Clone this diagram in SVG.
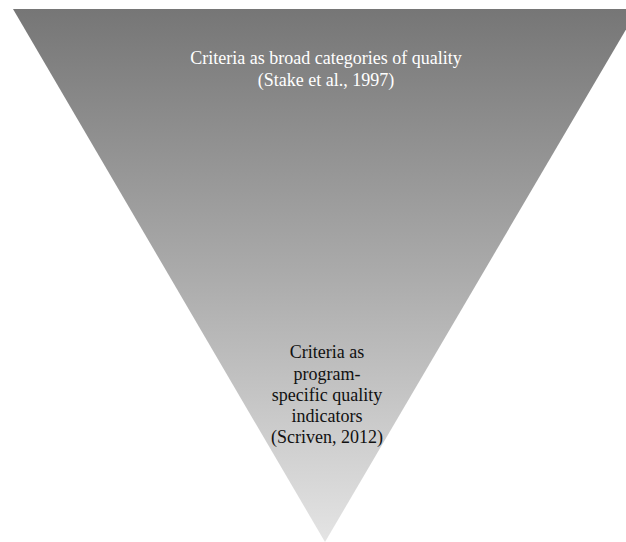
<svg xmlns="http://www.w3.org/2000/svg" width="626" height="542" viewBox="0 0 626 542">
  <style>
    .label { font-family: "Liberation Serif", "Times New Roman", serif; font-size: 18px; text-anchor: middle; }
    .light { fill: #ffffff; }
    .dark { fill: #111111; }
  </style>
  <defs>
    <linearGradient id="funnelFill" gradientUnits="userSpaceOnUse" x1="0" y1="9" x2="0" y2="542">
      <stop offset="0" stop-color="#767676"/>
      <stop offset="0.5" stop-color="#ababab"/>
      <stop offset="1" stop-color="#e4e4e4"/>
    </linearGradient>
  </defs>
  <rect width="626" height="542" fill="#ffffff"/>
  <g id="funnel">
    <polygon points="13,9 638,9 325,542" fill="url(#funnelFill)"/>
  </g>
  <g id="broad-criteria">
    <text class="label light" x="326" y="64">Criteria as broad categories of quality</text>
    <text class="label light" x="326" y="86">(Stake et al., 1997)</text>
  </g>
  <g id="specific-criteria">
    <text class="label dark" x="327" y="358">Criteria as</text>
    <text class="label dark" x="327" y="380">program-</text>
    <text class="label dark" x="327" y="401">specific quality</text>
    <text class="label dark" x="327" y="422">indicators</text>
    <text class="label dark" x="327" y="443">(Scriven, 2012)</text>
  </g>
  <g id="connectors"/>
</svg>
